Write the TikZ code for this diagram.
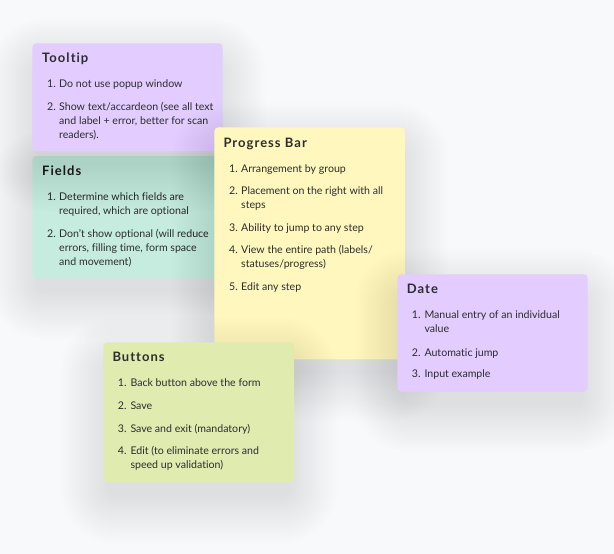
\documentclass[tikz,border=0pt]{standalone}
\usepackage{fontspec}
\setmainfont{Lato}[Ligatures=NoCommon]
\newfontfamily\titlefont[LetterSpace=8,Ligatures=NoCommon]{Lato Bold}
\definecolor{bgc}{HTML}{F8F9FB}
\definecolor{purp}{HTML}{E3CCFF}
\definecolor{mint}{HTML}{C6ECDF}
\definecolor{yell}{HTML}{FFF7BE}
\definecolor{gren}{HTML}{E0EBB0}
\definecolor{ink}{HTML}{2D2D2D}
\tikzset{
  x=1pt,y=-1pt,
  note/.style={rounded corners=4pt},
  shadowlayer/.style={fill=black,fill opacity=0.0026},
  ttl/.style={anchor=mid west,inner sep=0pt,yshift=-1.5pt,text=ink,font=\titlefont\fontsize{13}{15}\selectfont},
  num/.style={anchor=mid west,inner sep=0pt,yshift=-1.2pt,text=ink,font=\fontsize{10.6}{14}\selectfont},
  txt/.style={anchor=mid west,inner sep=0pt,yshift=-1.2pt,text=ink,font=\fontsize{10.6}{14}\selectfont},
}
\newcommand\notebox[5]{%
  \foreach \k in {1,...,26}{%
    \pgfmathsetmacro\gr{1.9*\k-6}%
    \pgfmathsetmacro\rc{6+1.9*\k}%
    \fill[shadowlayer,rounded corners=\rc pt] (#1-\gr,#2-\gr+18) rectangle (#3+\gr,#4+\gr+18);
  }%
  \fill[note,#5] (#1,#2) rectangle (#3,#4);
}
\begin{document}
\begin{tikzpicture}
\fill[bgc] (0,0) rectangle (614,554);
\useasboundingbox (0,0) rectangle (614,554);
% Fields
\notebox{32.3}{156}{222.7}{278.3}{mint}
\node[ttl] (fT) at (42,171) {Fields};
\node[num] (f1) at (47,197) {1.};
\node[txt] (f1a) at (59,197) {Determine which fields are};
\node[txt] (f1b) at (59,211) {required, which are optional};
\node[num] (f2) at (47,234) {2.};
\node[txt] (f2a) at (59,234) {Don’t show optional (will reduce};
\node[txt] (f2b) at (59,248) {errors, filling time, form space};
\node[txt] (f2c) at (59,262) {and movement)};
% Tooltip
\notebox{32.3}{43.3}{222.7}{151}{purp}
\node[ttl] (tT) at (42,58) {Tooltip};
\node[num] (t1) at (47,84) {1.};
\node[txt] (t1a) at (59,84) {Do not use popup window};
\node[num] (t2) at (47,107) {2.};
\node[txt] (t2a) at (59,107) {Show text/accardeon (see all text};
\node[txt] (t2b) at (59,121) {and label + error, better for scan};
\node[txt] (t2c) at (59,135) {readers).};
% Progress Bar
\notebox{214.3}{127.3}{405}{359.3}{yell}
\node[ttl] (pT) at (223.3,143) {Progress Bar};
\node[num] (p1) at (229,168.3) {1.};
\node[txt] (p1a) at (241,168.3) {Arrangement by group};
\node[num] (p2) at (229,191) {2.};
\node[txt] (p2a) at (241,191) {Placement on the right with all};
\node[txt] (p2b) at (241,205) {steps};
\node[num] (p3) at (229,227.3) {3.};
\node[txt] (p3a) at (241,227.3) {Ability to jump to any step};
\node[num] (p4) at (229,250) {4.};
\node[txt] (p4a) at (241,250) {View the entire path (labels/};
\node[txt] (p4b) at (241,264) {statuses/progress)};
\node[num] (p5) at (229,286.7) {5.};
\node[txt] (p5a) at (241,286.7) {Edit any step};
% Date
\notebox{397.3}{274.3}{587.7}{391.7}{purp}
\node[ttl] (dT) at (406.7,289.3) {Date};
\node[num] (d1) at (411.7,315) {1.};
\node[txt] (d1a) at (424.3,315) {Manual entry of an individual};
\node[txt] (d1b) at (424.3,329) {value};
\node[num] (d2) at (411.7,352.3) {2.};
\node[txt] (d2a) at (424.3,352.3) {Automatic jump};
\node[num] (d3) at (411.7,374) {3.};
\node[txt] (d3a) at (424.3,374) {Input example};
% Buttons
\notebox{103.3}{342.3}{294}{482.3}{gren}
\node[ttl] (bT) at (112.3,357.3) {Buttons};
\node[num] (b1) at (117.7,382.7) {1.};
\node[txt] (b1a) at (130.3,382.7) {Back button above the form};
\node[num] (b2) at (117.7,406) {2.};
\node[txt] (b2a) at (130.3,406) {Save};
\node[num] (b3) at (117.7,428.3) {3.};
\node[txt] (b3a) at (130.3,428.3) {Save and exit (mandatory)};
\node[num] (b4) at (117.7,451) {4.};
\node[txt] (b4a) at (130.3,451) {Edit (to eliminate errors and};
\node[txt] (b4b) at (130.3,465) {speed up validation)};
\end{tikzpicture}
\end{document}
